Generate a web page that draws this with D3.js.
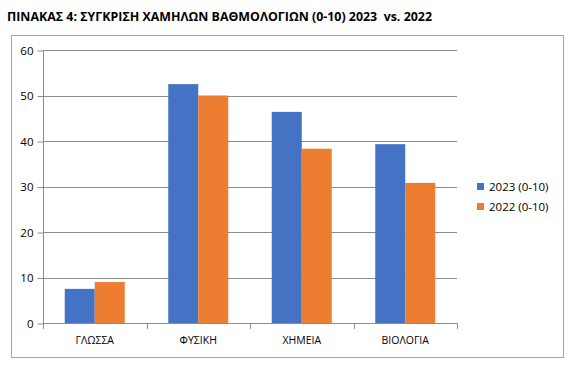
<!DOCTYPE html>
<html>
<head>
<meta charset="utf-8">
<script src="https://cdn.jsdelivr.net/npm/d3@7"></script>
<style>
  html, body { margin: 0; padding: 0; background: #fff; }
  svg { display: block; font-family: "Open Sans", "Noto Sans", sans-serif; }
</style>
</head>
<body>
<svg id="chart" width="574" height="372"></svg>
<script>
const title = "ΠΙΝΑΚΑΣ 4: ΣΥΓΚΡΙΣΗ ΧΑΜΗΛΩΝ ΒΑΘΜΟΛΟΓΙΩΝ (0-10) 2023  vs. 2022";
const categories = ["ΓΛΩΣΣΑ", "ΦΥΣΙΚΗ", "ΧΗΜΕΙΑ", "ΒΙΟΛΟΓΙΑ"];
const seriesNames = ["2023 (0-10)", "2022 (0-10)"];
const values2023 = [7.5, 52.5, 46.4, 39.3];
const values2022 = [9.0, 50.0, 38.3, 30.8];
const yTicks = [0, 10, 20, 30, 40, 50, 60];
const colors = ["#4472C4", "#ED7D31"];

const svg = d3.select("#chart");
const series = [values2023, values2022];

// title
svg.append("text")
  .attr("x", 7).attr("y", 21)
  .attr("font-size", 12.5).attr("font-weight", "bold")
  .attr("fill", "#000")
  .style("white-space", "pre")
  .attr("textLength", 425).attr("lengthAdjust", "spacingAndGlyphs")
  .text(title);

// chart border
svg.append("rect")
  .attr("x", 11.5).attr("y", 35.5).attr("width", 552).attr("height", 322)
  .attr("fill", "none").attr("stroke", "#a6a6a6").attr("stroke-width", 1);

const pLeft = 43, pRight = 457, pTop = 50, pBottom = 323;

const x = d3.scaleBand().domain(categories).range([pLeft, pRight]).paddingInner(0).paddingOuter(0);
const x1 = d3.scaleBand().domain(d3.range(series.length)).range([0, 60]);
const y = d3.scaleLinear().domain([0, 60]).range([pBottom, pTop]);

// gridlines
svg.append("g").selectAll("line").data(yTicks.filter(d => d > 0)).join("line")
  .attr("x1", pLeft).attr("x2", pRight)
  .attr("y1", d => Math.round(y(d)) + 0.5).attr("y2", d => Math.round(y(d)) + 0.5)
  .attr("stroke", "#8c8c8c").attr("stroke-width", 1);

// bars
const groups = svg.append("g").selectAll("g").data(categories).join("g")
  .attr("transform", c => `translate(${x(c) + (x.bandwidth() - 60) / 2},0)`);
groups.selectAll("rect").data((c, i) => series.map((s, k) => ({ k, v: s[i] }))).join("rect")
  .attr("x", d => x1(d.k))
  .attr("width", x1.bandwidth())
  .attr("y", d => y(d.v))
  .attr("height", d => y(0) - y(d.v))
  .attr("fill", d => colors[d.k]);

// y axis
const yAxis = d3.axisLeft(y).tickValues(yTicks).tickSize(6).tickPadding(4);
const ya = svg.append("g").attr("transform", `translate(${pLeft + 0.5},0.5)`).call(yAxis);
ya.select(".domain").attr("stroke", "#8c8c8c").attr("d", `M0,${pTop}V${pBottom}`);
ya.selectAll(".tick line").attr("stroke", "#8c8c8c");
ya.selectAll(".tick text").attr("font-size", 11.5).attr("fill", "#000").attr("font-family", "Open Sans, Noto Sans, sans-serif");

// x axis
const xTickPos = d3.range(categories.length + 1).map(i => pLeft + i * x.bandwidth());
const xa = svg.append("g");
xa.append("line").attr("x1", pLeft).attr("x2", pRight + 0.5)
  .attr("y1", pBottom + 0.5).attr("y2", pBottom + 0.5).attr("stroke", "#8c8c8c");
xa.selectAll("line.t").data(xTickPos).join("line").attr("class", "t")
  .attr("x1", d => Math.round(d) + 0.5).attr("x2", d => Math.round(d) + 0.5)
  .attr("y1", pBottom).attr("y2", pBottom + 6).attr("stroke", "#8c8c8c");
xa.selectAll("text").data(categories).join("text")
  .attr("x", c => x(c) + x.bandwidth() / 2).attr("y", 344)
  .attr("text-anchor", "middle").attr("font-size", 10.5).attr("fill", "#000")
  .text(c => c);

// legend
const lg = svg.append("g").selectAll("g").data(seriesNames).join("g")
  .attr("transform", (d, i) => `translate(477,${183 + i * 20})`);
lg.append("rect").attr("width", 7).attr("height", 7).attr("fill", (d, i) => colors[i]);
lg.append("text").attr("x", 12).attr("y", 7.5).attr("font-size", 11.5).attr("fill", "#000").text(d => d);
</script>
</body>
</html>
